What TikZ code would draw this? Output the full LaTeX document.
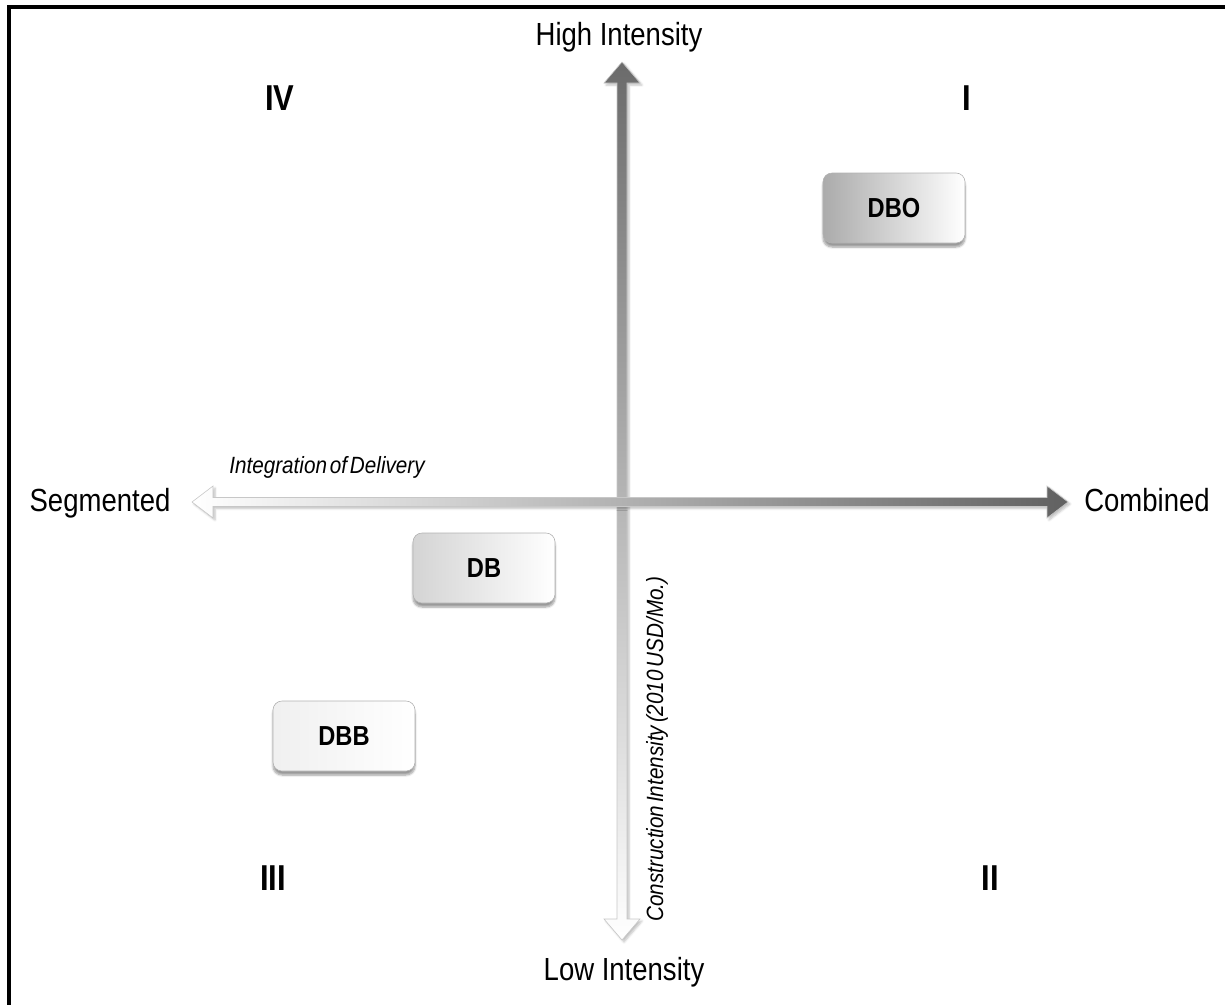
\documentclass[tikz,border=0pt]{standalone}
\usepackage{fontspec}
\setmainfont{Liberation Sans}[FakeStretch=0.86]
\newfontfamily\tightfont{Liberation Sans}[FakeStretch=0.88, WordSpace=0.5]
\usetikzlibrary{calc,shadows.blur}

\begin{document}
\begin{tikzpicture}[x=1pt,y=-1pt,
  axislabel/.style={font=\fontsize{32}{36}\selectfont, inner sep=0pt, text height=23pt, text depth=7pt},
  quadrant/.style={font=\fontsize{36}{40}\selectfont\bfseries, inner sep=0pt},
  axistitle/.style={font=\tightfont\itshape\fontsize{23.5}{26}\selectfont, inner sep=0pt},
  method/.style={draw=black!30, line width=0.6pt, rounded corners=9pt,
    minimum width=142pt, minimum height=70pt, inner sep=0pt,
    font=\fontsize{27.5}{30}\selectfont\bfseries,
    blur shadow={shadow xshift=0pt, shadow yshift=-4pt, shadow opacity=40, shadow blur steps=6}},
  arrowshadow/.style={blur shadow={shadow xshift=2pt, shadow yshift=-2pt, shadow opacity=25, shadow blur steps=5}}
]
\useasboundingbox (0,0) rectangle (1225,1004);

% page frame (open to the right and bottom)
\draw[line width=4pt] (9,1012) -- (9,7) -- (1235,7);

% axis end points
\coordinate (vtop) at (622,62);
\coordinate (vbot) at (622,940);
\coordinate (hleft) at (192,502);
\coordinate (hright) at (1068,502);

% vertical axis: dark at the top, fading to white at the bottom
\shade[top color=black!58, bottom color=white, draw=black!22, line width=0.6pt, arrowshadow]
  (vtop) -- ++(18,21) -- ++(-13,0) -- ($(vbot)+(5,-21)$) -- ++(13,0) -- (vbot)
  -- ++(-18,-21) -- ++(13,0) -- ($(vtop)+(-5,21)$) -- ++(-13,0) -- cycle;

% horizontal axis: white on the left, dark on the right
\shade[left color=white, right color=black!62, draw=black!22, line width=0.6pt, arrowshadow]
  (hleft) -- ++(21,-16) -- ++(0,11.5) -- ($(hright)+(-21,-4.5)$) -- ++(0,-11.5) -- (hright)
  -- ++(-21,16) -- ++(0,-11.5) -- ($(hleft)+(21,4.5)$) -- ++(0,11.5) -- cycle;

% axis end labels
\node[axislabel] (high) at (619,37) {High Intensity};
\node[axislabel] (low) at (624,972) {Low Intensity};
\node[axislabel] (seg) at (100,503) {Segmented};
\node[axislabel] (comb) at (1147,503) {Combined};

% axis titles
\node[axistitle] (integ) at (327,467) {Integration of Delivery};
\node[axistitle, rotate=90] (cint) at (657,749) {Construction Intensity (2010 USD/Mo.)};

% quadrant numbers
\node[quadrant] (q4) at (280,98) {IV};
\node[quadrant] (q1) at (967,98) {I};
\node[quadrant] (q3) at (273,878) {III};
\node[quadrant] (q2) at (990,878) {II};

% delivery methods
\node[method, left color=black!33, right color=white] (dbo) at (894,208) {DBO};
\node[method, left color=black!17, right color=white] (db) at (484,568) {DB};
\node[method, left color=black!6, right color=white] (dbb) at (344,736) {DBB};
\end{tikzpicture}
\end{document}
